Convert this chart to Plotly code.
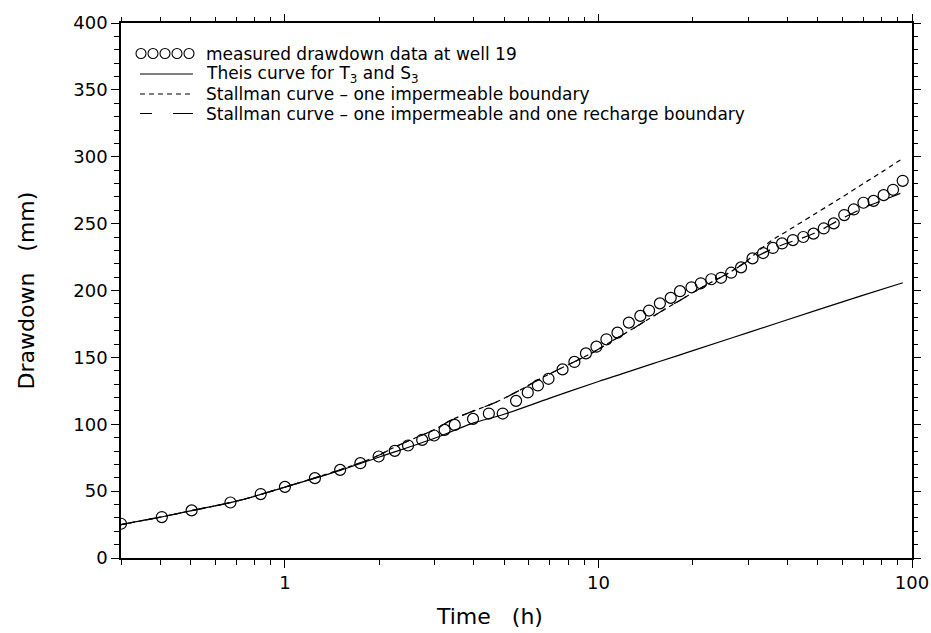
import plotly.graph_objects as go
import numpy as np

# measured drawdown data at well 19
t_meas = [0.3, 0.405, 0.504, 0.67, 0.837, 1.0, 1.246, 1.5, 1.74, 1.99, 2.24, 2.47, 2.74, 2.99,
          3.23, 3.48, 3.98, 4.47, 4.95, 5.46, 5.95, 6.41, 6.93, 7.68, 8.38, 9.12, 9.85, 10.6,
          11.5, 12.5, 13.6, 14.5, 15.7, 17.0, 18.2, 19.8, 21.2, 22.9, 24.6, 26.5, 28.5, 31.0,
          33.5, 36.0, 38.5, 41.7, 45.0, 48.5, 52.3, 56.3, 60.8, 65.2, 70.0, 75.4, 81.2, 87.0, 93.4]
s_meas = [25.6, 30.6, 35.6, 41.5, 47.8, 53.2, 59.7, 65.9, 70.9, 75.9, 80.1, 84.1, 88.3, 91.6,
          95.8, 99.5, 104.0, 108.0, 108.0, 117.5, 123.8, 129.0, 134.0, 141.0, 146.6, 153.0, 158.0, 163.5,
          168.5, 176.0, 181.0, 185.0, 190.4, 194.5, 199.5, 202.4, 205.4, 208.4, 209.5, 213.3, 217.3, 224.0,
          228.0, 231.8, 235.2, 237.7, 240.0, 242.5, 246.4, 250.2, 256.4, 260.6, 265.6, 267.0, 271.3, 275.3, 282.0]

# Theis curve for T3 and S3
t_theis = [0.3, 0.4, 0.5, 0.7, 1.0, 1.5, 2.0, 3.0, 3.5, 4.0, 5.0, 7.0, 10.0, 12.0, 15.0, 18.0,
           20.0, 30.0, 50.0, 70.0, 93.5]
s_theis = [25.0, 30.5, 35.3, 42.5, 53.0, 65.5, 75.5, 89.5, 95.8, 101.0, 107.5, 119.5, 132.0, 138.0, 145.5, 151.5,
           155.0, 168.5, 185.5, 196.5, 205.8]

# Stallman curve - one impermeable boundary
t_stal1 = [0.3, 0.4, 0.5, 0.7, 1.0, 1.5, 1.8, 2.0, 2.2, 2.5, 3.0, 3.4, 4.0, 4.66, 5.5, 6.4, 7.4,
           8.6, 9.7, 11.0, 13.0, 15.0, 18.0, 22.0, 26.0, 30.0, 35.0, 40.0, 50.0, 60.0, 70.0, 80.0, 91.8]
s_stal1 = [25.0, 30.5, 35.3, 42.5, 53.0, 66.0, 72.5, 77.0, 82.0, 88.0, 96.0, 103.3, 110.0, 116.0, 124.4, 133.0, 140.6,
           148.0, 154.3, 162.0, 172.0, 181.0, 192.0, 204.0, 213.0, 223.0, 236.0, 244.5, 258.5, 270.0, 280.0, 288.5, 297.6]

# Stallman curve - one impermeable and one recharge boundary
t_stal2 = [0.3, 0.4, 0.5, 0.7, 1.0, 1.5, 1.8, 2.0, 2.2, 2.5, 3.0, 3.4, 4.0, 4.66, 5.5, 6.4, 7.4,
           8.6, 9.7, 11.0, 13.0, 15.0, 18.0, 22.0, 26.0, 30.0, 35.0, 40.0, 45.0, 50.0, 60.0, 72.0, 80.0, 91.8]
s_stal2 = [25.0, 30.5, 35.3, 42.5, 53.0, 66.0, 72.5, 77.0, 82.0, 88.0, 96.0, 103.3, 110.0, 116.0, 124.4, 133.0, 140.6,
           148.0, 154.3, 162.0, 172.0, 181.0, 192.0, 204.0, 213.0, 222.0, 230.0, 235.5, 239.5, 244.0, 254.0, 263.0, 267.0, 272.6]

legend_labels = ["measured drawdown data at well 19",
                 "Theis curve for T<sub>3</sub> and S<sub>3</sub>",
                 "Stallman curve \u2013 one impermeable boundary",
                 "Stallman curve \u2013 one impermeable and one recharge boundary"]

x_major = [1, 10, 100]
x_major_labels = ["1", "10", "100"]
x_minor = [0.3, 0.4, 0.5, 0.6, 0.7, 0.8, 0.9, 2, 3, 4, 5, 6, 7, 8, 9,
           20, 30, 40, 50, 60, 70, 80, 90]
y_major = [0, 50, 100, 150, 200, 250, 300, 350, 400]

FONT = "DejaVu Sans"
OFF = 0                      # body margin removed by post_script
W, H = 931, 633
# plot area in screen pixels: x 121..912, y 23..558
ML = 121 - OFF
MT = 23 - OFF
MR = W - (912 - OFF)
MB = H - (558 - OFF)
PW, PH = W - ML - MR, H - MT - MB


def px2paper_x(px):
    return (px - OFF - ML) / PW


def px2paper_y(py):
    return (H - MB - (py - OFF)) / PH


LW = 1.2
fig = go.Figure()
fig.add_trace(go.Scatter(x=t_meas, y=s_meas, mode="markers", name=legend_labels[0],
                         marker=dict(symbol="circle-open", size=11, color="black", line=dict(width=1.2))))
fig.add_trace(go.Scatter(x=t_theis, y=s_theis, mode="lines", line_shape="spline", name=legend_labels[1],
                         line=dict(color="black", width=LW)))
fig.add_trace(go.Scatter(x=t_stal1, y=s_stal1, mode="lines", line_shape="spline", name=legend_labels[2],
                         line=dict(color="black", width=LW, dash="5px,4px")))
fig.add_trace(go.Scatter(x=t_stal2, y=s_stal2, mode="lines", line_shape="spline", name=legend_labels[3],
                         line=dict(color="black", width=LW, dash="14px,10px")))
# empty trace so that mirrored top/right axes (with minor ticks) are drawn
fig.add_trace(go.Scatter(x=[], y=[], xaxis="x2", yaxis="y2", showlegend=False, hoverinfo="skip"))

# ---- hand-drawn legend (samples + texts) ----
rows_px = [53.5, 74, 94, 113.5]
text_x = px2paper_x(204)
shapes = []
annotations = []
for i, lab in enumerate(legend_labels):
    annotations.append(dict(x=text_x, y=px2paper_y(rows_px[i]), xref="paper", yref="paper",
                            text=lab, showarrow=False, xanchor="left", yanchor="middle",
                            font=dict(size=17, family=FONT, color="black")))
for cx in [141, 153, 165, 177, 189]:
    shapes.append(dict(type="circle", xref="paper", yref="paper", xsizemode="pixel", ysizemode="pixel",
                       xanchor=px2paper_x(cx), yanchor=px2paper_y(rows_px[0]),
                       x0=-5, x1=5, y0=-5, y1=5, line=dict(color="black", width=1.1)))
dashes = ["solid", "5px,4px", "12px,21px,20px"]
for j, d in enumerate(dashes):
    yy = px2paper_y(rows_px[j + 1])
    shapes.append(dict(type="line", xref="paper", yref="paper", x0=px2paper_x(140), x1=px2paper_x(193),
                       y0=yy, y1=yy, line=dict(color="black", width=LW, dash=d)))

# axis titles as annotations
annotations.append(dict(x=px2paper_x(489), y=px2paper_y(616), xref="paper", yref="paper",
                        text="Time&nbsp;&nbsp;&nbsp;(h)", showarrow=False, xanchor="center", yanchor="middle",
                        font=dict(size=22, family=FONT, color="black")))
annotations.append(dict(x=px2paper_x(26), y=px2paper_y(290.5), xref="paper", yref="paper",
                        text="Drawdown&nbsp;&nbsp;&nbsp;(mm)", showarrow=False, xanchor="center", yanchor="middle",
                        textangle=-90, font=dict(size=22, family=FONT, color="black")))

tick_common = dict(ticks="outside", ticklen=8, tickwidth=1.2, tickcolor="black",
                   showgrid=False, zeroline=False, automargin=False)

fig.update_layout(
    width=W, height=H,
    margin=dict(l=ML, r=MR, t=MT, b=MB, autoexpand=False),
    paper_bgcolor="white", plot_bgcolor="white",
    font=dict(family=FONT, color="black", size=18),
    showlegend=False,
    shapes=shapes, annotations=annotations,
    xaxis=dict(type="log", range=[np.log10(0.3), 2],
               tickvals=x_major, ticktext=x_major_labels, ticklabeloverflow="allow",
               showline=True, linecolor="black", linewidth=1.5, mirror=True,
               minor=dict(tickvals=x_minor, ticks="outside", ticklen=5, tickwidth=1.2,
                          tickcolor="black", showgrid=False),
               tickfont=dict(size=18), **tick_common),
    xaxis2=dict(type="log", range=[np.log10(0.3), 2], overlaying="x", side="top", anchor="y",
                tickvals=x_major, showticklabels=False, showline=False,
                minor=dict(tickvals=x_minor, ticks="outside", ticklen=5, tickwidth=1.2,
                           tickcolor="black", showgrid=False),
                **tick_common),
    yaxis=dict(range=[0, 400], tickvals=y_major, ticklabeloverflow="allow",
               showline=True, linecolor="black", linewidth=1.5, mirror=True,
               minor=dict(dtick=10, ticks="outside", ticklen=5, tickwidth=1.2,
                          tickcolor="black", showgrid=False),
               tickfont=dict(size=18), **tick_common),
    yaxis2=dict(range=[0, 400], overlaying="y", side="right", anchor="x",
                tickvals=y_major, showticklabels=False, showline=False,
                minor=dict(dtick=10, ticks="outside", ticklen=5, tickwidth=1.2,
                           tickcolor="black", showgrid=False),
                **tick_common),
)

fig.write_html("out.html", config={"displayModeBar": False},
               post_script="document.body.style.margin='0';document.body.style.overflow='hidden';")
